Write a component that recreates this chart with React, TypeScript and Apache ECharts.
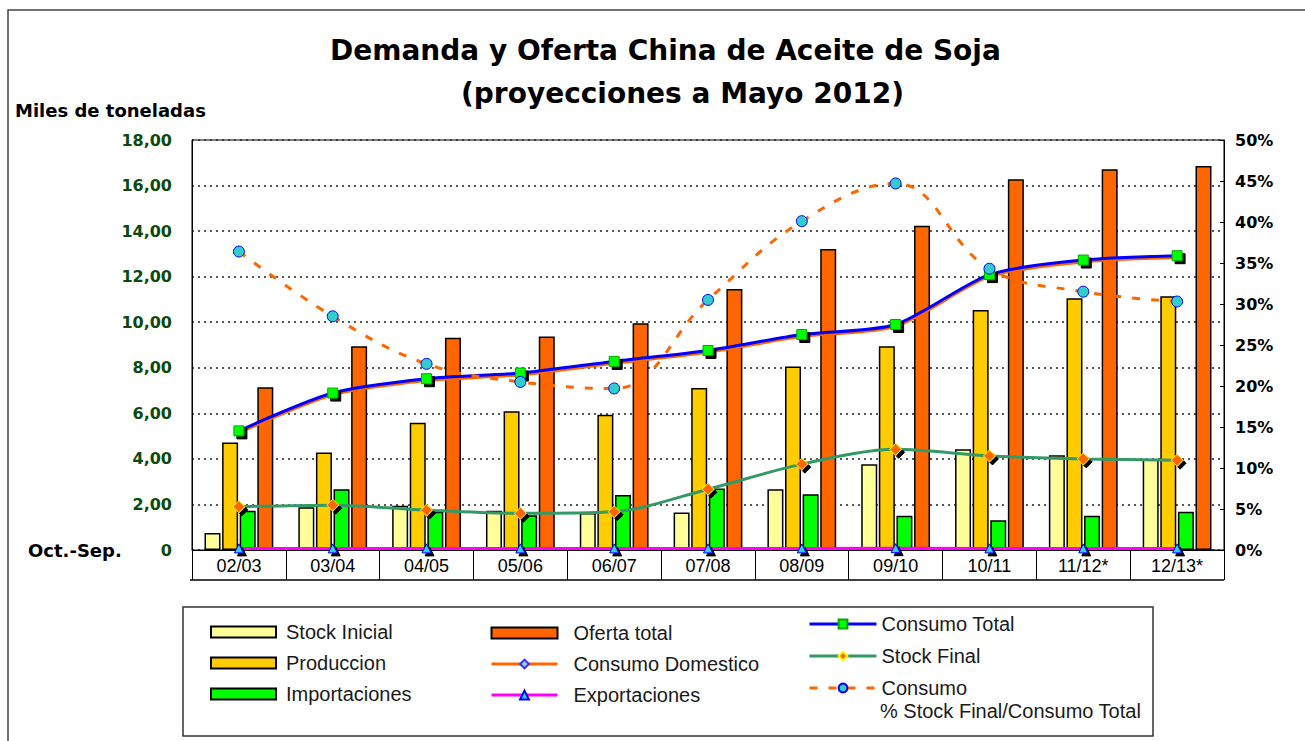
import React, { useEffect, useRef } from 'react';
import * as echarts from 'echarts';

const categories = ['02/03', '03/04', '04/05', '05/06', '06/07', '07/08', '08/09', '09/10', '10/11', '11/12*', '12/13*'];
const stockInicial = [0.75, 1.88, 1.94, 1.72, 1.62, 1.65, 2.67, 3.77, 4.42, 4.16, 3.97];
const produccion = [4.72, 4.28, 5.59, 6.09, 5.94, 7.11, 8.06, 8.94, 10.54, 11.05, 11.14];
const importaciones = [1.72, 2.67, 1.68, 1.53, 2.41, 2.70, 2.45, 1.50, 1.31, 1.50, 1.68];
const ofertaTotal = [7.15, 8.95, 9.32, 9.37, 9.96, 11.46, 13.21, 14.24, 16.28, 16.72, 16.86];
const consumoTotal = [5.23, 6.89, 7.52, 7.77, 8.28, 8.76, 9.46, 9.90, 12.09, 12.73, 12.92];
const consumoDomestico = [5.15, 6.81, 7.44, 7.69, 8.20, 8.68, 9.38, 9.82, 12.01, 12.65, 12.84];
const exportaciones = [0.07, 0.07, 0.07, 0.07, 0.07, 0.07, 0.07, 0.08, 0.07, 0.07, 0.07];
const stockFinal = [1.90, 1.97, 1.75, 1.61, 1.68, 2.67, 3.77, 4.42, 4.13, 4.00, 3.94];
const pctStockConsumo = [36.4, 28.5, 22.7, 20.5, 19.7, 30.5, 40.1, 44.7, 34.3, 31.5, 30.3];

const leftAxis = { min: 0, max: 18, interval: 2 };
const rightAxis = { min: 0, max: 50, interval: 5 };

const titleLines = ['Demanda y Oferta China de Aceite de Soja', '(proyecciones a Mayo 2012)'];
const yUnitLabel = 'Miles de toneladas';
const xPeriodLabel = 'Oct.-Sep.';
const legendExtraLine = '% Stock Final/Consumo Total';

const BOLD = 'DejaVu Sans';
const REG = 'Liberation Sans';

export default function App() {
  const ref = useRef<HTMLDivElement>(null);

  useEffect(() => {
    if (!ref.current) return;
    const chart = echarts.init(ref.current, null, { renderer: 'svg' });

    const gridLeft = 192;
    const gridRight = 81;
    const gridTop = 140;
    const gridBottom = 191;
    const W = 1305;
    const H = 741;

    const shadow = { shadowColor: '#000', shadowOffsetX: 3, shadowOffsetY: 3, shadowBlur: 0 };

    const barBase = (name: string, data: number[], color: string) => ({
      name,
      type: 'bar',
      data,
      barWidth: 16,
      barGap: '10%',
      itemStyle: { color, borderColor: '#000', borderWidth: 1.5 },
      z: 2,
    });

    const legendText = (pad: number) => ({
      fontFamily: REG,
      fontSize: 20,
      lineHeight: 20,
      color: '#1a1a1a',
      padding: [0, 0, 0, pad],
    });

    const option: any = {
      animation: false,
      backgroundColor: '#fff',
      title: [
        {
          text: titleLines[0],
          left: 330,
          top: 36,
          padding: 0,
          textStyle: { fontFamily: BOLD, fontWeight: 'bold', fontSize: 28, color: '#000' },
        },
        {
          text: titleLines[1],
          left: 461,
          top: 79,
          padding: 0,
          textStyle: { fontFamily: BOLD, fontWeight: 'bold', fontSize: 28, color: '#000' },
        },
      ],
      grid: {
        left: gridLeft,
        right: gridRight,
        top: gridTop,
        bottom: gridBottom,
        show: true,
        borderColor: '#000',
        borderWidth: 1,
        containLabel: false,
      },
      xAxis: {
        type: 'category',
        data: categories,
        boundaryGap: true,
        axisLine: { show: true, lineStyle: { color: '#000', width: 1 } },
        axisTick: { show: true, length: 30, lineStyle: { color: '#000', width: 1 } },
        axisLabel: { margin: 7, fontFamily: REG, fontSize: 18, color: '#000' },
        splitLine: { show: false },
      },
      yAxis: [
        {
          type: 'value',
          min: leftAxis.min,
          max: leftAxis.max,
          interval: leftAxis.interval,
          position: 'left',
          axisLine: { show: true, lineStyle: { color: '#000', width: 1 } },
          axisTick: { show: false },
          axisLabel: {
            margin: 20,
            fontFamily: BOLD,
            fontWeight: 'bold',
            fontSize: 16,
            color: '#0b4a0b',
            formatter: (v: number) => (v === 0 ? '0' : v.toFixed(2).replace('.', ',')),
          },
          splitLine: { show: true, lineStyle: { color: '#222', width: 1.5, type: [2, 4] } },
        },
        {
          type: 'value',
          min: rightAxis.min,
          max: rightAxis.max,
          interval: rightAxis.interval,
          position: 'right',
          axisLine: { show: true, lineStyle: { color: '#000', width: 1 } },
          axisTick: { show: true, inside: true, length: 4, lineStyle: { color: '#000' } },
          axisLabel: {
            margin: 11,
            fontFamily: BOLD,
            fontWeight: 'bold',
            fontSize: 16,
            color: '#000',
            formatter: '{value}%',
          },
          splitLine: { show: false },
        },
      ],
      legend: [
        {
          orient: 'vertical',
          left: 210,
          top: 622,
          padding: 0,
          itemWidth: 65,
          itemHeight: 11,
          itemGap: 11,
          textStyle: legendText(5),
          data: [
            { name: 'Stock Inicial', icon: 'rect' },
            { name: 'Produccion', icon: 'rect' },
            { name: 'Importaciones', icon: 'rect' },
          ],
        },
        {
          orient: 'vertical',
          left: 490,
          top: 623,
          padding: 0,
          itemWidth: 66,
          itemHeight: 11,
          itemGap: 11,
          lineStyle: { width: 3 },
          textStyle: legendText(11),
          data: [{ name: 'Oferta total', icon: 'rect' }, 'Consumo Domestico', 'Exportaciones'],
        },
        {
          orient: 'vertical',
          left: 808,
          top: 614,
          padding: 0,
          itemWidth: 67,
          itemHeight: 11,
          itemGap: 12,
          lineStyle: { width: 3 },
          textStyle: legendText(0),
          data: ['Consumo Total', 'Stock Final', 'Consumo'],
        },
      ],
      graphic: [
        {
          type: 'polyline',
          shape: { points: [[8, H], [8, 10], [W, 10]] },
          style: { stroke: '#444', lineWidth: 1.5, fill: 'none' },
          silent: true,
        },
        {
          type: 'line',
          shape: { x1: gridLeft - 2, y1: H - gridBottom + 30, x2: W - gridRight, y2: H - gridBottom + 30 },
          style: { stroke: '#000', lineWidth: 1.5 },
          silent: true,
        },
        {
          type: 'rect',
          shape: { x: 183, y: 607, width: 970, height: 129 },
          style: { stroke: '#333', lineWidth: 1.5, fill: 'none' },
          silent: true,
          z: -1,
        },
        {
          type: 'text',
          x: 15,
          y: 110,
          style: {
            text: yUnitLabel,
            fontFamily: BOLD,
            fontWeight: 'bold',
            fontSize: 18,
            fill: '#000',
            verticalAlign: 'middle',
          },
        },
        {
          type: 'text',
          x: 28,
          y: 550,
          style: {
            text: xPeriodLabel,
            fontFamily: BOLD,
            fontWeight: 'bold',
            fontSize: 18,
            fill: '#000',
            verticalAlign: 'middle',
          },
        },
        {
          type: 'text',
          x: 880,
          y: 711,
          style: {
            text: legendExtraLine,
            fontFamily: REG,
            fontSize: 20,
            fill: '#1a1a1a',
            verticalAlign: 'middle',
          },
        },
      ],
      series: [
        barBase('Stock Inicial', stockInicial, '#FFFF99'),
        barBase('Produccion', produccion, '#FFCC00'),
        barBase('Importaciones', importaciones, '#00FF00'),
        barBase('Oferta total', ofertaTotal, '#FF6600'),
        {
          name: 'Consumo Domestico',
          type: 'line',
          data: consumoDomestico,
          smooth: 0.25,
          lineStyle: { color: '#FF6600', width: 3 },
          symbol: 'diamond',
          symbolSize: 9,
          itemStyle: { color: '#99CCFF', borderColor: '#3333FF', borderWidth: 1 },
          z: 3,
        },
        {
          name: 'Consumo Total',
          type: 'line',
          data: consumoTotal,
          smooth: 0.25,
          lineStyle: { color: '#0000FF', width: 3 },
          symbol: 'rect',
          symbolSize: 10,
          itemStyle: { color: '#00FF00', borderColor: '#00AA00', borderWidth: 1, ...shadow },
          z: 4,
        },
        {
          name: 'Exportaciones',
          type: 'line',
          data: exportaciones,
          lineStyle: { color: '#FF00FF', width: 3 },
          symbol: 'triangle',
          symbolSize: 9,
          itemStyle: { color: '#33CCFF', borderColor: '#0000FF', borderWidth: 1, ...shadow },
          z: 4,
        },
        {
          name: 'Stock Final',
          type: 'line',
          data: stockFinal,
          smooth: 0.3,
          lineStyle: { color: '#339966', width: 3 },
          symbol: 'diamond',
          symbolSize: 12,
          itemStyle: { color: '#FF6600', borderColor: '#FFFF00', borderWidth: 1, ...shadow },
          z: 4,
        },
        {
          name: 'Consumo',
          type: 'line',
          yAxisIndex: 1,
          data: pctStockConsumo,
          smooth: 0.4,
          lineStyle: { color: '#FF6600', width: 3, type: [8, 11] },
          symbol: 'circle',
          symbolSize: 11,
          itemStyle: { color: '#33CCCC', borderColor: '#0000FF', borderWidth: 1 },
          z: 5,
        },
      ],
    };

    chart.setOption(option);
    return () => {
      chart.dispose();
    };
  }, []);

  return (
    <div
      ref={ref}
      style={{ position: 'absolute', left: 0, top: 0, width: 1305, height: 741, background: '#fff' }}
    />
  );
}
